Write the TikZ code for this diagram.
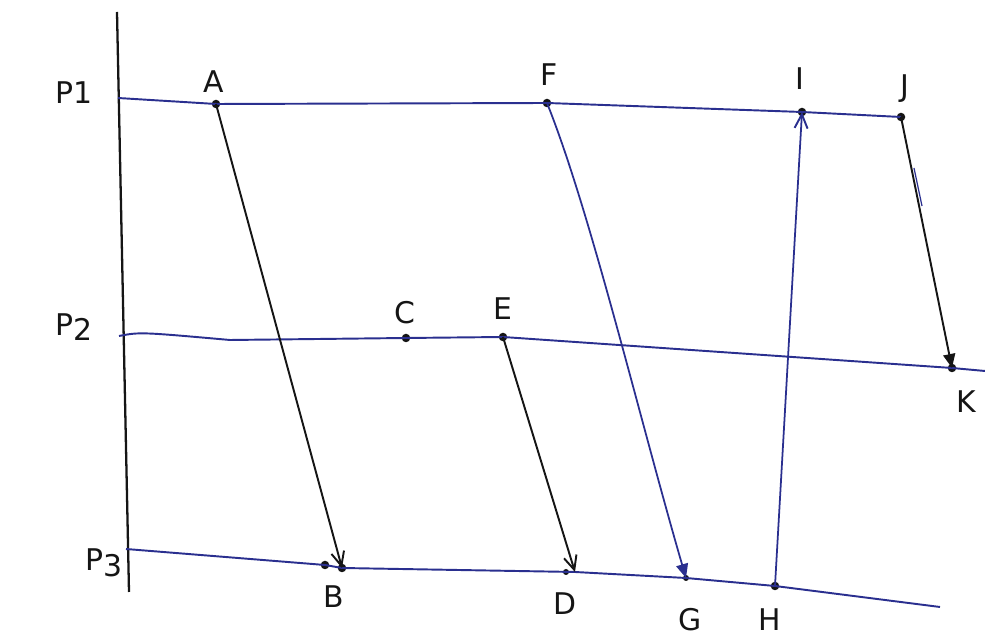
\documentclass[tikz,border=0pt]{standalone}
\usepackage{fontspec}
\setsansfont{DejaVu Sans}
\usetikzlibrary{arrows.meta}
\definecolor{penblue}{HTML}{2A2F8F}
\definecolor{penblack}{HTML}{151515}
\tikzset{
  pt/.style={circle,fill=penblack,inner sep=0pt,minimum size=0.17cm},
  lbl/.style={font=\sffamily\fontsize{17}{20}\selectfont,text=penblack,inner sep=1pt},
  pline/.style={penblue,line width=1.1pt,line join=round},
  axis/.style={penblack,line width=1.3pt},
  msg/.style={penblack,line width=1.1pt},
  bmsg/.style={penblue,line width=1.0pt},
  openhead/.style={-{Straight Barb[length=0.28cm,width=0.26cm,line width=1.1pt]}},
  fullhead/.style={-{Triangle[length=0.28cm,width=0.24cm]}}
}
\begin{document}
\begin{tikzpicture}[x=0.02cm,y=-0.02cm]
\useasboundingbox (0,0) rectangle (985,644);
% vertical axis
\coordinate (ax1) at (117,12);
\coordinate (ax2) at (129,592);
\draw[axis] (ax1) -- (ax2);
% process lines start/end points
\coordinate (p1s) at (118,98);
\coordinate (p2s) at (119,336);
\coordinate (p2b) at (140,332);
\coordinate (p2c) at (230,340);
\coordinate (p2e) at (985,371);
\coordinate (p3s) at (126,549);
\coordinate (p3e) at (940,607);
% events
\node[pt] (A) at (216,104) {};
\node[pt] (F) at (547,103) {};
\node[pt] (I) at (802,112) {};
\node[pt] (J) at (901,117) {};
\node[pt] (C) at (406,338) {};
\node[pt] (E) at (503,337) {};
\node[pt] (K) at (952,368) {};
\node[pt] (B0) at (325,565) {};
\node[pt] (B) at (342,568) {};
\coordinate (D) at (575,572);
\node[pt,minimum size=0.12cm] (Dd) at (566,572) {};
\node[pt,minimum size=0.12cm] (G) at (686,578) {};
\node[pt] (H) at (775,586) {};
% process lines
\draw[pline] (p1s) -- (A.center) -- (F.center) -- (I.center) -- (J.center);
\draw[pline] (p2s) .. controls (p2b) .. (p2c) -- (C.center) -- (E.center) -- (K.center) -- (p2e);
\draw[pline] (p3s) -- (B0.center) -- (B.center) -- (D) -- (G.center) -- (H.center) -- (p3e);
% messages
\draw[msg,openhead] (A.center) -- (B.center);
\draw[msg,openhead] (E.center) -- (D);
\draw[bmsg,fullhead] (F.center) .. controls (590,210) and (640,420) .. (G.center);
\draw[bmsg,openhead] (H.center) -- (I.center);
\draw[msg,fullhead] (J.center) -- (K.center);
\coordinate (dbl1) at (914,168);
\coordinate (dbl2) at (922,206);
\draw[bmsg,line width=0.7pt] (dbl1) -- (dbl2);
% labels
\node[lbl] (lP1) at (74,93) {P1};
\node[lbl] (lP2) at (74,327) {P\raisebox{-0.35ex}{2}};
\node[lbl] (lP3) at (104,563) {P\raisebox{-0.4ex}{3}};
\node[lbl] (lA) at (214,82) {A};
\node[lbl] (lF) at (549,75) {F};
\node[lbl] (lI) at (800,79) {I};
\node[lbl] (lJ) at (905,89) {J};
\node[lbl] (lC) at (405,313) {C};
\node[lbl] (lE) at (503,309) {E};
\node[lbl] (lK) at (966,402) {K};
\node[lbl] (lB) at (334,597) {B};
\node[lbl] (lD) at (565,604) {D};
\node[lbl] (lG) at (690,620) {G};
\node[lbl] (lH) at (770,620) {H};
\end{tikzpicture}
\end{document}
